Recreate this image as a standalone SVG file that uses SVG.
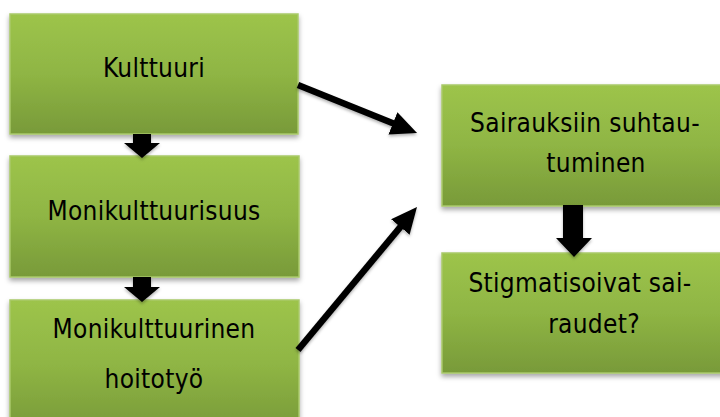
<svg xmlns="http://www.w3.org/2000/svg" width="720" height="417" viewBox="0 0 720 417">
<defs>
<linearGradient id="g" x1="0" y1="0" x2="0" y2="1">
<stop offset="0" stop-color="#9dc44b"/>
<stop offset="0.5" stop-color="#8fb544"/>
<stop offset="1" stop-color="#789a39"/>
</linearGradient>
<filter id="sh" x="-10%" y="-10%" width="120%" height="130%">
<feDropShadow dx="0" dy="3" stdDeviation="2.5" flood-color="#000" flood-opacity="0.35"/>
</filter>
<filter id="ash" x="-20%" y="-20%" width="140%" height="140%">
<feDropShadow dx="0" dy="2" stdDeviation="1.5" flood-color="#000" flood-opacity="0.3"/>
</filter>
<marker id="ah" markerUnits="userSpaceOnUse" markerWidth="28" markerHeight="26" refX="6" refY="12" orient="auto">
<path d="M0,0 L26,12 L0,24 z" fill="#000"/>
</marker>
<style>
.box{fill:url(#g);stroke:#a9c96a;stroke-width:1.5;filter:url(#sh)}
.t{font-family:"DejaVu Sans Condensed","DejaVu Sans",sans-serif;font-stretch:condensed;font-size:26px;letter-spacing:0.3px;fill:#000;text-anchor:middle}
.ln{stroke:#000;stroke-width:6.5;fill:none;marker-end:url(#ah)}
.blk{fill:#000}
</style>
</defs>
<g id="n1"><rect class="box" x="10" y="14" width="288" height="120"/><text class="t" x="154" y="77">Kulttuuri</text></g>
<g id="n2"><rect class="box" x="10" y="156" width="289" height="121"/><text class="t" x="154" y="220">Monikulttuurisuus</text></g>
<g id="n3"><rect class="box" x="10" y="300" width="289" height="130"/><text class="t" x="154" y="338">Monikulttuurinen</text><text class="t" x="154" y="388">hoitotyö</text></g>
<g id="n4"><rect class="box" x="442" y="85" width="290" height="121"/><text class="t" x="585" y="132">Sairauksiin suhtau-</text><text class="t" x="596" y="172">tuminen</text></g>
<g id="n5"><rect class="box" x="442" y="253" width="290" height="120"/><text class="t" x="580" y="292">Stigmatisoivat sai-</text><text class="t" x="594" y="333">raudet?</text></g>
<g id="connectors" filter="url(#ash)">
<polygon class="blk" points="133,134 151,134 151,143 160,143 142,158 124,143 133,143"/>
<polygon class="blk" points="133,277 151,277 151,287 160,287 142,302 124,287 133,287"/>
<polygon class="blk" points="563,205 583,205 583,238 592,238 574,257 556,238 563,238"/>
<line class="ln" x1="298" y1="85" x2="398.5" y2="125.5"/>
<line class="ln" x1="298" y1="350" x2="404.2" y2="222.4"/>
</g>
</svg>
